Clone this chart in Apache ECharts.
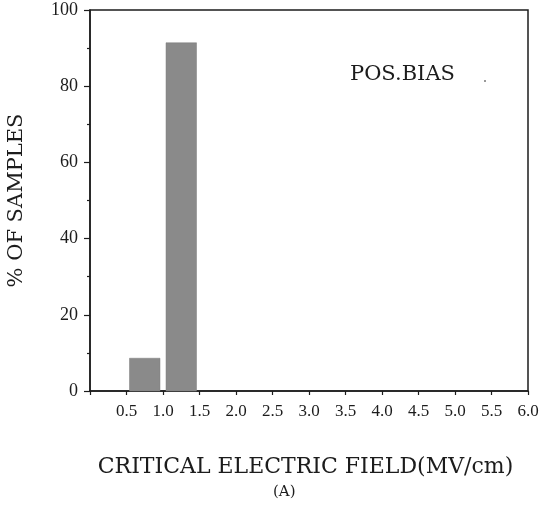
<!DOCTYPE html>
<html>
<head>
<meta charset="utf-8">
<script src="https://cdn.jsdelivr.net/npm/echarts@6/dist/echarts.min.js"></script>
<style>
  html, body { margin: 0; padding: 0; background: #fff; }
  #chart { width: 542px; height: 507px; }
</style>
</head>
<body>
<div id="chart"></div>
<script>
// Histogram bins of critical electric field (MV/cm) and share of samples in each
const binStart = [0.5, 1.0];
const binEnd = [1.0, 1.5];
const samplePct = [8.6, 91.4];
const xTicks = [0.5, 1.0, 1.5, 2.0, 2.5, 3.0, 3.5, 4.0, 4.5, 5.0, 5.5, 6.0];

const font = '"DejaVu Serif", "Liberation Serif", serif';
const tickFont = '"Liberation Serif", "DejaVu Serif", serif';
const ink = '#1c1c1c';

const chart = echarts.init(document.getElementById('chart'), null, { renderer: 'canvas' });

const binData = binStart.map((s, i) => [s, binEnd[i], samplePct[i]]);

chart.setOption({
  animation: false,
  backgroundColor: '#fff',
  grid: {
    left: 90, right: 14, top: 10, bottom: 116,
    outerBoundsMode: 'none', containLabel: false,
    show: true, borderColor: ink, borderWidth: 1.5, backgroundColor: 'transparent'
  },
  xAxis: {
    type: 'value', min: 0, max: 6, interval: 0.5,
    axisLine: { show: true, lineStyle: { color: ink, width: 1.5 } },
    axisTick: { show: true, inside: false, length: 4, lineStyle: { color: ink, width: 1.2 } },
    splitLine: { show: false },
    axisLabel: {
      color: ink, fontFamily: tickFont, fontSize: 17, margin: 12,
      formatter: v => (xTicks.indexOf(v) >= 0 ? v.toFixed(1) : '')
    },
    name: 'CRITICAL ELECTRIC FIELD(MV/cm)',
    nameLocation: 'middle', nameGap: 65,
    nameTextStyle: { color: ink, fontFamily: font, fontSize: 22, padding: [0, 7, 0, 0] }
  },
  yAxis: {
    type: 'value', min: 0, max: 100, interval: 20,
    axisLine: { show: true, lineStyle: { color: ink, width: 1.5 } },
    axisTick: { show: true, inside: false, length: 6, lineStyle: { color: ink, width: 1.2 } },
    minorTick: { show: true, splitNumber: 2, length: 3, lineStyle: { color: ink, width: 1.2 } },
    splitLine: { show: false },
    axisLabel: { color: ink, fontFamily: tickFont, fontSize: 18, margin: 12 },
    name: '% OF SAMPLES',
    nameLocation: 'middle', nameGap: 63, nameRotate: 90,
    nameTextStyle: { color: ink, fontFamily: font, fontSize: 21 }
  },
  series: [{
    type: 'custom',
    data: binData,
    encode: { x: [0, 1], y: 2 },
    renderItem: function (params, api) {
      const p0 = api.coord([api.value(0), api.value(2)]);
      const p1 = api.coord([api.value(1), 0]);
      const gap = 3;
      return {
        type: 'rect',
        shape: { x: p0[0] + gap, y: p0[1], width: p1[0] - p0[0] - 2 * gap, height: p1[1] - p0[1] },
        style: { fill: '#8a8a8a', stroke: '#7c7c7c', lineWidth: 0.5 }
      };
    }
  }],
  graphic: [
    {
      type: 'text', left: 350, top: 64,
      style: { text: 'POS.BIAS', fill: ink, font: '21px ' + font }
    },
    {
      type: 'circle', shape: { cx: 485, cy: 81, r: 1 }, style: { fill: '#777' }
    },
    {
      type: 'text', left: 273, top: 485,
      style: { text: '(A)', fill: ink, font: '15px ' + font }
    }
  ]
});
</script>
</body>
</html>
